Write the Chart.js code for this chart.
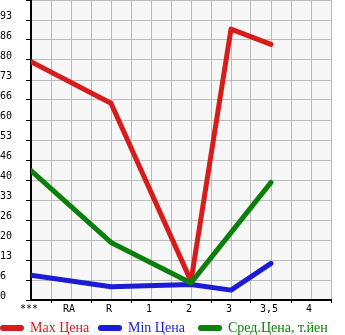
<!DOCTYPE html>
<html><head><meta charset="utf-8">
<script src="https://cdn.jsdelivr.net/npm/chart.js@4.4.1/dist/chart.umd.min.js"></script>
<style>html,body{margin:0;padding:0;background:#fff;}#wrap{width:345px;height:335px;position:relative;}</style>
</head><body><div id="wrap"><canvas id="c"></canvas></div>
<script>
const categories = ['***', 'RA', 'R', '1', '2', '3', '3,5', '4'];
const maxPrice = [79.4, null, 65.6, null, 6.3, 90.3, 85.2, null];
const minPrice = [8.3, null, 4.4, null, 5.2, 3.3, 12.2, null];
const avgPrice = [43.1, null, 19.2, null, 5.7, null, 39.2, null];
const seriesNames = ['Max Цена', 'Min Цена', 'Сред.Цена, т.йен'];
const yTicks = [0, 6, 13, 20, 26, 33, 40, 46, 53, 60, 66, 73, 80, 86, 93];

const RED = '#d81c1c', BLUE = '#1c1cd8', GREEN = '#0a800a';

function pts(arr) {
  return arr.map((v, i) => (v === null ? null : { x: i, y: v })).filter(p => p);
}

const bgPlugin = {
  id: 'bg',
  beforeDraw(chart) {
    const { ctx, chartArea: a } = chart;
    ctx.save();
    ctx.fillStyle = '#f7f7f7';
    ctx.fillRect(a.left, a.top, a.right - a.left, a.bottom - a.top);
    ctx.restore();
  }
};

const legendStarts = [0, 98, 198];
const legendPlugin = {
  id: 'customLegend',
  afterDraw(chart) {
    const ctx = chart.ctx;
    const colors = [RED, BLUE, GREEN];
    ctx.save();
    ctx.font = '14px "Liberation Serif", serif';
    ctx.textBaseline = 'middle';
    const y = 328;
    seriesNames.forEach((name, i) => {
      const x = legendStarts[i];
      ctx.strokeStyle = colors[i];
      ctx.lineWidth = 6;
      ctx.lineCap = 'round';
      ctx.beginPath();
      ctx.moveTo(x + 3, y);
      ctx.lineTo(x + 21, y);
      ctx.stroke();
      ctx.fillStyle = colors[i];
      ctx.fillText(name, x + 30, y);
    });
    ctx.restore();
  }
};

const ds = (label, data, color, order) => ({
  label, data: pts(data), borderColor: color, backgroundColor: color,
  borderWidth: 5, pointRadius: 0, borderCapStyle: 'round', borderJoinStyle: 'round',
  spanGaps: true, tension: 0, order
});

function zeroPad(s) { s.paddingTop = 0; s.paddingBottom = 0; s.paddingLeft = 0; s.paddingRight = 0; }

new Chart(document.getElementById('c'), {
  type: 'line',
  data: {
    datasets: [
      ds(seriesNames[0], maxPrice, RED, 2),
      ds(seriesNames[1], minPrice, BLUE, 1),
      ds(seriesNames[2], avgPrice, GREEN, 0)
    ]
  },
  options: {
    responsive: true,
    maintainAspectRatio: false,
    animation: false,
    layout: { padding: { top: 0, left: 0, right: 14, bottom: 17 } },
    plugins: { legend: { display: false }, tooltip: { enabled: false } },
    scales: {
      x: {
        type: 'linear', min: 0, max: 7.5,
        afterBuildTicks(s) {
          const t = [];
          for (let i = 0; i <= 15; i++) t.push({ value: i * 0.5 });
          s.ticks = t;
        },
        afterFit(s) { s.height = 18; zeroPad(s); },
        border: { color: '#000', width: 2 },
        grid: {
          color: '#bbbbbb', lineWidth: 1, drawTicks: true, tickLength: 3,
          tickColor: c => (c.tick && Math.abs(c.tick.value % 1 - 0.5) < 1e-6 ? '#000' : 'rgba(0,0,0,0)')
        },
        ticks: {
          autoSkip: false, maxRotation: 0, padding: 0, labelOffset: -2,
          color: '#000', font: { family: '"DejaVu Sans Mono", monospace', size: 10 },
          callback: v => (Math.abs(v - Math.round(v)) < 1e-6 ? (categories[Math.round(v)] || '') : '')
        }
      },
      y: {
        min: 0, max: 100,
        afterBuildTicks(s) {
          const t = [];
          for (let i = 0; i <= 15; i++) t.push({ value: i * 100 / 15 });
          s.ticks = t;
        },
        afterFit(s) { s.width = 31; zeroPad(s); },
        border: { color: '#000', width: 2 },
        grid: { color: '#bbbbbb', lineWidth: 1, tickLength: 5, tickColor: '#000' },
        ticks: {
          crossAlign: 'far', padding: 2, labelOffset: -4,
          color: '#000', font: { family: '"DejaVu Sans Mono", monospace', size: 10 },
          callback: (v, i) => (i < yTicks.length ? String(yTicks[i]) : '')
        }
      }
    }
  },
  plugins: [bgPlugin, legendPlugin]
});
</script>
</body></html>
